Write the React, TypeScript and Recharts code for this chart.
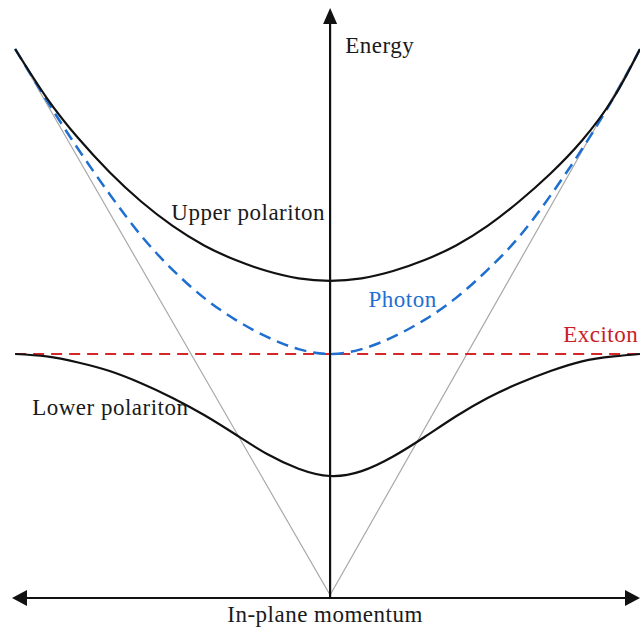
import { LineChart, Line, XAxis, YAxis, ReferenceLine, ReferenceDot } from 'recharts';

// in-plane momentum (arbitrary units, 0 at the energy axis)
const momentum = [-1, -0.9, -0.8, -0.7, -0.6, -0.5, -0.4, -0.3, -0.2, -0.1, 0, 0.1, 0.2, 0.3, 0.4, 0.5, 0.6, 0.7, 0.8, 0.9, 0.984];

// energies, exciton level = 1
const upperPolariton = [2.25, 2.05, 1.885, 1.745, 1.625, 1.525, 1.445, 1.385, 1.34, 1.31, 1.3, 1.31, 1.34, 1.385, 1.445, 1.525, 1.625, 1.74, 1.875, 2.05, 2.25];
const photon = [2.25, 2.04, 1.84, 1.655, 1.485, 1.345, 1.23, 1.14, 1.07, 1.02, 1.0, 1.02, 1.07, 1.14, 1.23, 1.345, 1.48, 1.65, 1.84, 2.05, 2.25];
const exciton = [1, 1, 1, 1, 1, 1, 1, 1, 1, 1, 1, 1, 1, 1, 1, 1, 1, 1, 1, 1, 1];
const lowerPolariton = [1.0, 0.99, 0.965, 0.93, 0.88, 0.82, 0.75, 0.67, 0.59, 0.53, 0.5, 0.52, 0.58, 0.66, 0.745, 0.82, 0.88, 0.93, 0.97, 0.99, 1.0];

// light cone
const lightConeK = [-1, 0, 0.984];
const lightConeE = [2.25, 0.012, 2.25];

const data = momentum.map((k, i) => ({
    k,
    upper: upperPolariton[i],
    photon: photon[i],
    exciton: exciton[i],
    lower: lowerPolariton[i],
}));
const coneData = lightConeK.map((k, i) => ({ k, cone: lightConeE[i] }));

const FONT = '"Liberation Serif", "Times New Roman", serif';

function VerticalArrow(p: any) {
    const x = p.x1;
    const top = Math.min(p.y1, p.y2);
    const bottom = Math.max(p.y1, p.y2);
    return (
        <g>
            <line x1={x} y1={bottom} x2={x} y2={top + 10} stroke="#111" strokeWidth={2.2} />
            <polygon points={`${x},${top} ${x - 7},${top + 16} ${x + 7},${top + 16}`} fill="#111" />
        </g>
    );
}

function HorizontalArrow(p: any) {
    const y = p.y1;
    const left = Math.min(p.x1, p.x2);
    const right = Math.max(p.x1, p.x2);
    return (
        <g>
            <line x1={left + 10} y1={y} x2={right - 10} y2={y} stroke="#111" strokeWidth={2.2} />
            <polygon points={`${left},${y} ${left + 15},${y - 8} ${left + 15},${y + 8}`} fill="#111" />
            <polygon points={`${right},${y} ${right - 15},${y - 8} ${right - 15},${y + 8}`} fill="#111" />
        </g>
    );
}

const label = (text: string, color: string, anchor: 'start' | 'middle' | 'end' = 'start') => (p: any) => (
    <text x={p.cx} y={p.cy} fill={color} fontSize={23} fontFamily={FONT} textAnchor={anchor} letterSpacing={0.5}>
        {text}
    </text>
);

export default function App() {
    return (
        <div style={{ position: 'absolute', left: 0, top: 0, background: '#fff' }}>
            <LineChart width={642} height={629} data={data} margin={{ top: 8, right: 2, bottom: 31, left: 12 }}>
                <XAxis type="number" dataKey="k" domain={[-1.01, 0.984]} allowDataOverflow hide />
                <YAxis type="number" domain={[0, 2.418]} allowDataOverflow hide />
                <Line data={coneData} dataKey="cone" type="linear" stroke="#a9a9a9" strokeWidth={1.2} dot={false} activeDot={false} isAnimationActive={false} />
                <Line dataKey="exciton" type="linear" stroke="#d62728" strokeWidth={2.2} strokeDasharray="11 7" dot={false} activeDot={false} isAnimationActive={false} />
                <Line dataKey="photon" type="natural" stroke="#1f6fd1" strokeWidth={2.5} strokeDasharray="12 7" dot={false} activeDot={false} isAnimationActive={false} />
                <Line dataKey="upper" type="natural" stroke="#111" strokeWidth={2.2} dot={false} activeDot={false} isAnimationActive={false} />
                <Line dataKey="lower" type="natural" stroke="#111" strokeWidth={2.2} dot={false} activeDot={false} isAnimationActive={false} />
                <ReferenceLine x={0} stroke="#111" shape={VerticalArrow} />
                <ReferenceLine y={0} stroke="#111" shape={HorizontalArrow} />
                <ReferenceDot x={0.048} y={2.234} ifOverflow="visible" shape={label('Energy', '#1a1a1a')} />
                <ReferenceDot x={-0.016} y={1.549} ifOverflow="visible" shape={label('Upper polariton', '#1a1a1a', 'end')} />
                <ReferenceDot x={0.122} y={1.193} ifOverflow="visible" shape={label('Photon', '#1f6fd1')} />
                <ReferenceDot x={0.74} y={1.049} ifOverflow="visible" shape={label('Exciton', '#c81e28')} />
                <ReferenceDot x={-0.946} y={0.75} ifOverflow="visible" shape={label('Lower polariton', '#1a1a1a')} />
                <ReferenceDot x={-0.016} y={-0.098} ifOverflow="visible" shape={label('In-plane momentum', '#1a1a1a', 'middle')} />
            </LineChart>
        </div>
    );
}
